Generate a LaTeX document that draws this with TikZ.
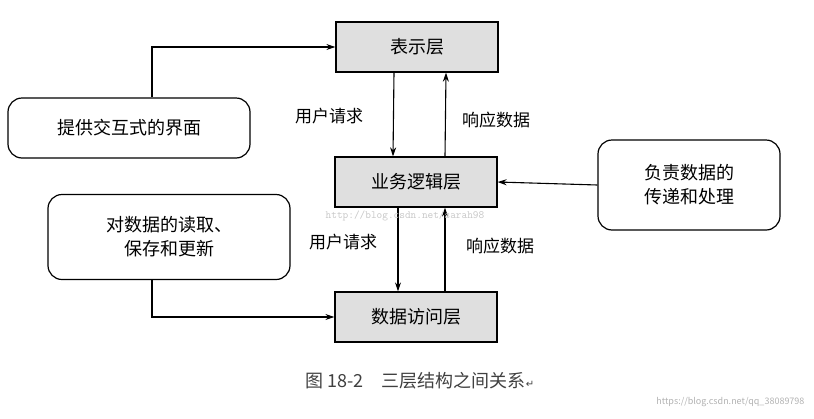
\documentclass[tikz,border=0pt]{standalone}
\usepackage{fontspec}
\setmainfont{Noto Sans CJK SC}
\newfontfamily\symfont{DejaVu Sans}
\usetikzlibrary{arrows.meta}
\begin{document}
\begin{tikzpicture}[x=1pt,y=-1pt,
  layer/.style={draw,line width=1.2pt,fill=gray!25,minimum width=162pt,minimum height=50pt,font=\fontsize{18}{20}\selectfont},
  note/.style={draw,line width=1.2pt,rounded corners=14pt,align=center,font=\fontsize{18}{24}\selectfont},
  arr/.style={-{Stealth[length=9pt,width=6pt]},line width=1.1pt},
  lbl/.style={font=\fontsize{17}{19}\selectfont}]
\useasboundingbox (0,0) rectangle (814,418);
\node[layer] (p) at (417,47) {表示层};
\node[layer] (b) at (416,182) {业务逻辑层};
\node[layer] (d) at (416,317) {数据访问层};
\node[note,minimum width=242pt,minimum height=60pt] (ui) at (129,128) {提供交互式的界面};
\node[note,minimum width=182pt,minimum height=90pt] (tr) at (689,185) {负责数据的\\传递和处理};
\node[note,minimum width=242pt,minimum height=85pt] (rw) at (169,237) {对数据的读取、\\保存和更新};
\coordinate (c1) at (152,47);
\coordinate (c2) at (152,317);
\draw[arr] (ui.north -| c1) -- (c1) -- (p.west);
\draw[arr] (rw.south -| c2) -- (c2) -- (d.west);
\draw[arr] (tr.west) -- (b.east);
\draw[arr] ([xshift=-23pt]p.south) -- ([xshift=-23pt]b.north);
\draw[arr] ([xshift=29pt]b.north) -- ([xshift=29pt]p.south);
\draw[arr] ([xshift=-18pt]b.south) -- ([xshift=-18pt]d.north);
\draw[arr] ([xshift=29pt]d.north) -- ([xshift=29pt]b.south);
\node[lbl] (l1) at (329,116) {用户请求};
\node[lbl] (l2) at (496,120) {响应数据};
\node[lbl] (l3) at (343,242) {用户请求};
\node[lbl] (l4) at (500,246) {响应数据};
\node[font=\fontsize{11}{12}\ttfamily,text=gray!45] (wm) at (405,216) {http://blog.csdn.net/sarah98};
\node[font=\fontsize{18}{20}\selectfont,text=black!75] (cap) at (420,381) {图 18-2\quad 三层结构之间关系{\symfont\fontsize{10}{10}\selectfont ↵}};
\node[font=\fontsize{9}{10}\selectfont,text=gray!60,anchor=east] (wm2) at (808,402) {https://blog.csdn.net/qq\_38089798};
\end{tikzpicture}
\end{document}
